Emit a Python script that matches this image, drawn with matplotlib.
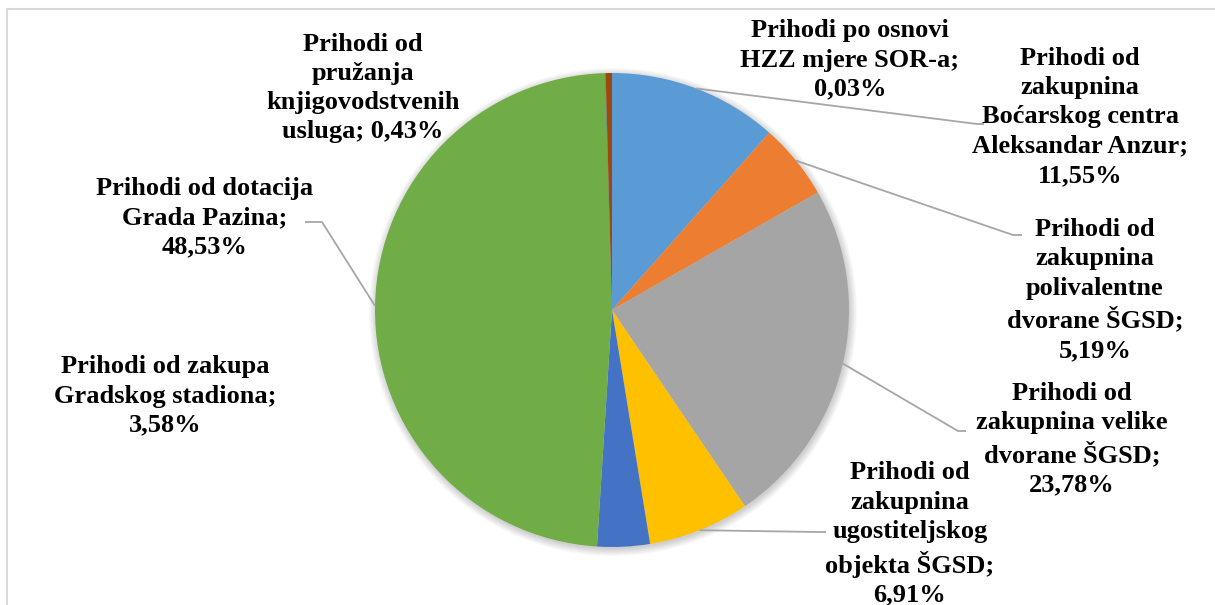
import matplotlib.pyplot as plt
import numpy as np
from matplotlib.patches import Circle, Rectangle

# data, clockwise from the top
names = ["Prihodi od\nzakupnina\nBoćarskog centra\nAleksandar Anzur",
         "Prihodi od\nzakupnina\npolivalentne\ndvorane ŠGSD",
         "Prihodi od\nzakupnina velike\ndvorane ŠGSD",
         "Prihodi od\nzakupnina\nugostiteljskog\nobjekta ŠGSD",
         "Prihodi od zakupa\nGradskog stadiona",
         "Prihodi od dotacija\nGrada Pazina",
         "Prihodi po osnovi\nHZZ mjere SOR-a",
         "Prihodi od\npružanja\nknjigovodstvenih\nusluga"]
values = [11.55, 5.19, 23.78, 6.91, 3.58, 48.53, 0.03, 0.43]
joins = ["\n", "\n", "\n", "\n", "\n", "\n", "\n", " "]
colors = ["#5B9BD5", "#ED7D31", "#A5A5A5", "#FFC000",
          "#4472C4", "#70AD47", "#255E91", "#9E480E"]

W, H = 1215, 605
cx, cy, R = 612, 310, 237

# label centres in pixels (x, y from top)
label_pos = [(1080, 117), (1095, 290), (1072, 439), (910, 534),
             (165, 396), (205, 218), (850, 60), (363, 88)]
# leader line ends: (x, y, x of end of horizontal tail)
leaders = {0: (977, 124, 984), 1: (1013, 235, 1022), 2: (958, 431, 966),
           3: (818, 532, 826), 5: (322, 222, 305)}

fig = plt.figure(figsize=(W / 100, H / 100), dpi=100)
ax = fig.add_axes([0, 0, 1, 1])

def py(y):
    return H - y

# soft shadow
for i in range(8):
    ax.add_patch(Circle((cx + 1, py(cy) - 2), R + i, color="black",
                        alpha=0.025, lw=0, zorder=0))

wedges, _ = ax.pie(values, colors=colors, startangle=90, counterclock=False,
                   center=(cx, py(cy)), radius=R, frame=True,
                   wedgeprops=dict(linewidth=0, zorder=1))
ax.set_xlim(0, W)
ax.set_ylim(0, H)
ax.set_aspect("equal")
ax.axis("off")

for i, (name, v) in enumerate(zip(names, values)):
    txt = name + ";" + joins[i] + f"{v:.2f}%".replace(".", ",")
    x, y = label_pos[i]
    ax.text(x, py(y), txt, ha="center", va="center", fontsize=19,
            fontweight="bold", family="Liberation Serif", color="black",
            linespacing=1.35, zorder=3)
    if i in leaders:
        w = wedges[i]
        ang = np.deg2rad((w.theta1 + w.theta2) / 2)
        sx = cx + R * np.cos(ang)
        sy = py(cy) + R * np.sin(ang)
        ex, ey, tx = leaders[i]
        ax.plot([sx, ex, tx], [sy, py(ey), py(ey)], color="#A6A6A6",
                lw=1.3, zorder=2, solid_capstyle="butt")

fig.add_artist(Rectangle((7 / W, -0.1), 1.2, 1.1 - 9 / H, transform=fig.transFigure,
                         fill=False, edgecolor="#D9D9D9", lw=1.5))

fig.savefig("out.png", dpi=100)
